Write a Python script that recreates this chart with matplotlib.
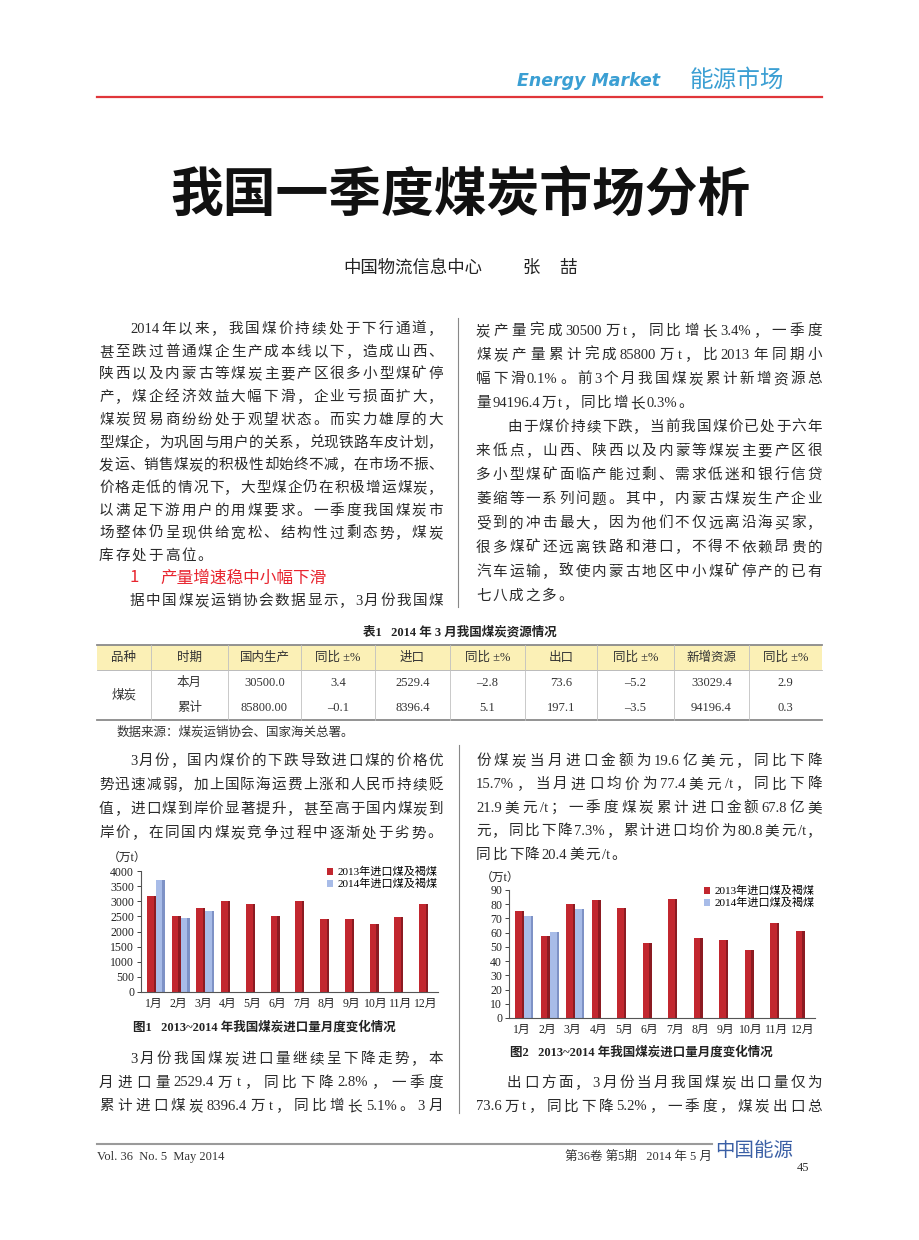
import matplotlib
matplotlib.use("Agg")
import matplotlib.pyplot as plt
from matplotlib.font_manager import FontProperties
from matplotlib.patches import Rectangle, Patch
import numpy as np

# ---- data ----
months = ["1月", "2月", "3月", "4月", "5月", "6月", "7月", "8月", "9月", "10月", "11月", "12月"]
imports_2013 = [3180, 2500, 2780, 3010, 2910, 2500, 3010, 2420, 2420, 2240, 2480, 2920]
imports_2014 = [3690, 2460, 2690]
exports_2013 = [75, 58, 80, 83, 77, 52.5, 84, 56.5, 54.5, 47.5, 66.5, 61.5]
exports_2014 = [71.5, 60.5, 76.5]
series_names = ["2013年进口煤及褐煤", "2014年进口煤及褐煤"]

table_head = ["品种", "时期", "国内生产", "同比 ±%", "进口", "同比 ±%", "出口", "同比 ±%", "新增资源", "同比 ±%"]
row_kind = "煤炭"
row_month = ["本月", "30500.0", "3.4", "2529.4", "–2.8", "73.6", "–5.2", "33029.4", "2.9"]
row_total = ["累计", "85800.00", "–0.1", "8396.4", "5.1", "197.1", "–3.5", "94196.4", "0.3"]

para_left = [
    "2014 年以来，我国煤价持续处于下行通道，",
    "甚至跌过普通煤企生产成本线以下，造成山西、",
    "陕西以及内蒙古等煤炭主要产区很多小型煤矿停",
    "产，煤企经济效益大幅下滑，企业亏损面扩大，",
    "煤炭贸易商纷纷处于观望状态。而实力雄厚的大",
    "型煤企，为巩固与用户的关系，兑现铁路车皮计划，",
    "发运、销售煤炭的积极性却始终不减，在市场不振、",
    "价格走低的情况下，大型煤企仍在积极增运煤炭，",
    "以满足下游用户的用煤要求。一季度我国煤炭市",
    "场整体仍呈现供给宽松、结构性过剩态势，煤炭",
    "库存处于高位。",
]
heading = "产量增速稳中小幅下滑"
para_left2 = ["据中国煤炭运销协会数据显示，3 月份我国煤"]
para_right = [
    "炭产量完成 30500 万 t，同比增长 3.4%，一季度",
    "煤炭产量累计完成 85800 万 t，比 2013 年同期小",
    "幅下滑 0.1%。前 3 个月我国煤炭累计新增资源总",
    "量 94196.4 万 t，同比增长 0.3%。",
]
para_right2 = [
    "由于煤价持续下跌，当前我国煤价已处于六年",
    "来低点，山西、陕西以及内蒙等煤炭主要产区很",
    "多小型煤矿面临产能过剩、需求低迷和银行信贷",
    "萎缩等一系列问题。其中，内蒙古煤炭生产企业",
    "受到的冲击最大，因为他们不仅远离沿海买家，",
    "很多煤矿还远离铁路和港口，不得不依赖昂贵的",
    "汽车运输，致使内蒙古地区中小煤矿停产的已有",
    "七八成之多。",
]
para_a = [
    "3 月份，国内煤价的下跌导致进口煤的价格优",
    "势迅速减弱，加上国际海运费上涨和人民币持续贬",
    "值，进口煤到岸价显著提升，甚至高于国内煤炭到",
    "岸价，在同国内煤炭竞争过程中逐渐处于劣势。",
]
para_b = [
    "份煤炭当月进口金额为 19.6 亿美元，同比下降",
    "15.7%，当月进口均价为 77.4 美元 /t，同比下降",
    "21.9 美元 /t；一季度煤炭累计进口金额 67.8 亿美",
    "元，同比下降 7.3%，累计进口均价为 80.8 美元 /t，",
    "同比下降 20.4 美元 /t。",
]
para_c = [
    "3 月份我国煤炭进口量继续呈下降走势，本",
    "月进口量 2529.4 万 t，同比下降 2.8%，一季度",
    "累计进口煤炭 8396.4 万 t，同比增长 5.1%。3 月",
]
para_d = [
    "出口方面，3 月份当月我国煤炭出口量仅为",
    "73.6 万 t，同比下降 5.2%，一季度，煤炭出口总",
]

SERIF = ["Liberation Serif", "Noto Sans CJK SC", "DejaVu Sans"]
SANS = ["Noto Sans CJK SC", "DejaVu Sans"]
plt.rcParams["font.family"] = SERIF
BODY = "#2a2a2a"

fig = plt.figure(figsize=(9.2, 12.4), dpi=100)
bg = fig.add_axes([0, 0, 1, 1])
bg.set_xlim(0, 920)
bg.set_ylim(1240, 0)
bg.axis("off")
renderer = fig.canvas.get_renderer()
body_fp = FontProperties(family=SERIF, size=10.5)


def tokens(s):
    out, buf = [], ""
    for ch in s:
        if ch == " ":
            if buf:
                out.append(buf)
                buf = ""
        elif ord(ch) < 128:
            buf += ch
        else:
            if buf:
                out.append(buf)
                buf = ""
            out.append(ch)
    if buf:
        out.append(buf)
    return out


def put_line(s, x0, x1, y, justify=True, fp=body_fp, color=BODY, gap=1.8):
    toks = tokens(s)
    ws = [renderer.get_text_width_height_descent(t, fp, ismath=False)[0] for t in toks]
    if justify and len(toks) > 1:
        gap = (x1 - x0 - sum(ws)) / (len(toks) - 1)
    x = x0
    for t, w in zip(toks, ws):
        bg.text(x, y + 5, t, fontproperties=fp, color=color, ha="left", va="baseline")
        x += w + gap


def put_para(lines, x0, x1, y0, dy, indent=True, last_full=False):
    for k, s in enumerate(lines):
        xs = x0 + (31 if (k == 0 and indent) else 0)
        full = last_full or k < len(lines) - 1
        put_line(s, xs, x1, y0 + k * dy, justify=full)


# header
bg.text(517, 81, "Energy Market", fontsize=12.5, style="italic", weight="bold",
        family=["DejaVu Sans"], color="#3b9fd3", va="center", ha="left")
bg.text(690, 80, "能源市场", fontsize=17, family=SANS, color="#3b9fd3", va="center", ha="left")
bg.plot([97, 822], [97, 97], color="#e0363a", lw=1.6)

# title + author
bg.text(460, 195, "我国一季度煤炭市场分析", fontsize=38, weight="bold", family=SANS,
        color="#111111", ha="center", va="center")
bg.text(343, 268, "中国物流信息中心", fontsize=12.5, family=SANS, color="#222222", va="center")
bg.text(531, 268, "张", fontsize=12.5, family=SANS, color="#222222", va="center", ha="center")
bg.text(568, 268, "喆", fontsize=12.5, family=SANS, color="#222222", va="center", ha="center")

# top columns
LX0, LX1, RX0, RX1 = 99, 443, 476, 822
put_para(para_left, LX0, LX1, 328, 22.7)
bg.text(130, 578, "1", fontsize=12, family=SANS, color="#e8252f", va="center")
bg.text(160, 578, heading, fontsize=12, family=SANS, color="#e8252f", va="center")
put_para(para_left2, LX0, LX1, 600, 22.7, last_full=True)
put_para(para_right, RX0, RX1, 330, 24, indent=False)
put_para(para_right2, RX0, RX1, 426, 24.1)
bg.plot([458, 458], [318, 607], color="#888888", lw=0.8)

# table
bg.text(460, 632, "表1   2014 年 3 月我国煤炭资源情况", fontsize=9, weight="bold",
        ha="center", va="center", color="#222222")
bounds = [97, 151, 228, 301, 375, 450, 525, 597, 674, 749, 822]
centers = [(bounds[i] + bounds[i + 1]) / 2 for i in range(len(bounds) - 1)]
bg.add_patch(Rectangle((97, 645), 725, 25, facecolor="#fbf0b6", edgecolor="none"))
bg.plot([97, 822], [645, 645], color="#8a8a8a", lw=1.3)
bg.plot([97, 822], [670, 670], color="#b0b0b0", lw=0.6)
bg.plot([97, 822], [720, 720], color="#8a8a8a", lw=1.3)
for b in bounds[1:-1]:
    bg.plot([b, b], [645, 720], color="#c0c0c0", lw=0.6)
for c, h in zip(centers, table_head):
    bg.text(c, 658, h, fontsize=9, ha="center", va="center", color="#333333")
bg.text(centers[0], 695, row_kind, fontsize=9, ha="center", va="center", color="#333333")
for c, v in zip(centers[1:], row_month):
    bg.text(c, 683, v, fontsize=9, ha="center", va="center", color="#333333")
for c, v in zip(centers[1:], row_total):
    bg.text(c, 708, v, fontsize=9, ha="center", va="center", color="#333333")
bg.text(117, 732, "数据来源：煤炭运销协会、国家海关总署。", fontsize=9, va="center", color="#333333")

# lower columns
put_para(para_a, LX0, LX1, 760, 24.1)
put_para(para_b, RX0, RX1, 760, 23.4, indent=False)
bg.plot([459, 459], [745, 1113], color="#888888", lw=0.8)
put_para(para_c, LX0, LX1, 1058, 23.5, last_full=True)
put_para(para_d, RX0, RX1, 1082, 23.5, last_full=True)


# charts
def bars3d(ax, lefts, vals, face, side, w=0.36):
    ax.bar(lefts, vals, width=w * 0.74, align="edge", color=face, linewidth=0)
    ax.bar(lefts + w * 0.74, vals, width=w * 0.26, align="edge", color=side, linewidth=0)


def make_chart(box, v13, v14, ymax, step, leg_xy):
    x0, ybot, x1, ytop = box
    ax = fig.add_axes([x0 / 920, 1 - ybot / 1240, (x1 - x0) / 920, (ybot - ytop) / 1240])
    idx = np.arange(len(months))
    bars3d(ax, idx - 0.26, v13, "#c2272f", "#8c1b22")
    idx14 = np.arange(len(v14))
    bars3d(ax, idx14 + 0.1, v14, "#a8bce8", "#7e92c6")
    ax.set_xlim(-0.5, len(months) - 0.5)
    ax.set_ylim(0, ymax)
    ax.set_yticks(np.arange(0, ymax + 1, step))
    ax.set_xticks(idx)
    ax.set_xticklabels(months)
    ax.tick_params(axis="x", length=0, pad=4, labelsize=8.5, colors="#222222")
    ax.tick_params(axis="y", length=3, width=0.6, pad=2, labelsize=8.5, colors="#222222")
    for s in ["top", "right"]:
        ax.spines[s].set_visible(False)
    for s in ["left", "bottom"]:
        ax.spines[s].set_color("#555555")
        ax.spines[s].set_linewidth(0.8)
    ax.set_facecolor("none")
    handles = [Patch(facecolor="#c2272f"), Patch(facecolor="#a8bce8")]
    ax.legend(handles, series_names, loc="upper left", frameon=False, fontsize=8,
              handlelength=0.6, handleheight=0.6, handletextpad=0.4, labelspacing=0.15,
              borderpad=0, bbox_to_anchor=(leg_xy[0] / 920, 1 - leg_xy[1] / 1240),
              bbox_transform=fig.transFigure)
    return ax


make_chart((141, 992, 438, 871), imports_2013, imports_2014, 4000, 500, (321, 861))
bg.text(108, 858, "（万t）", fontsize=8.5, va="center", color="#222222")
bg.text(133, 1027, "图1   2013~2014 年我国煤炭进口量月度变化情况", fontsize=9, weight="bold",
        va="center", color="#222222")

make_chart((509, 1018, 815, 890), exports_2013, exports_2014, 90, 10, (698, 880))
bg.text(481, 878, "（万t）", fontsize=8.5, va="center", color="#222222")
bg.text(510, 1052, "图2   2013~2014 年我国煤炭进口量月度变化情况", fontsize=9, weight="bold",
        va="center", color="#222222")

# footer
bg.plot([97, 712], [1144, 1144], color="#9a9a9a", lw=1.5)
bg.text(97, 1157, "Vol. 36  No. 5  May 2014", fontsize=9, va="center", color="#333333")
bg.text(712, 1157, "第36卷 第5期   2014 年 5 月", fontsize=9, va="center", ha="right", color="#333333")
bg.text(715, 1150, "中国能源", fontsize=14, family=SANS, color="#3a5fa5", va="center", style="italic")
bg.text(797, 1168, "45", fontsize=9, va="center", color="#333333")

fig.savefig("out.png", dpi=100, facecolor="white")
